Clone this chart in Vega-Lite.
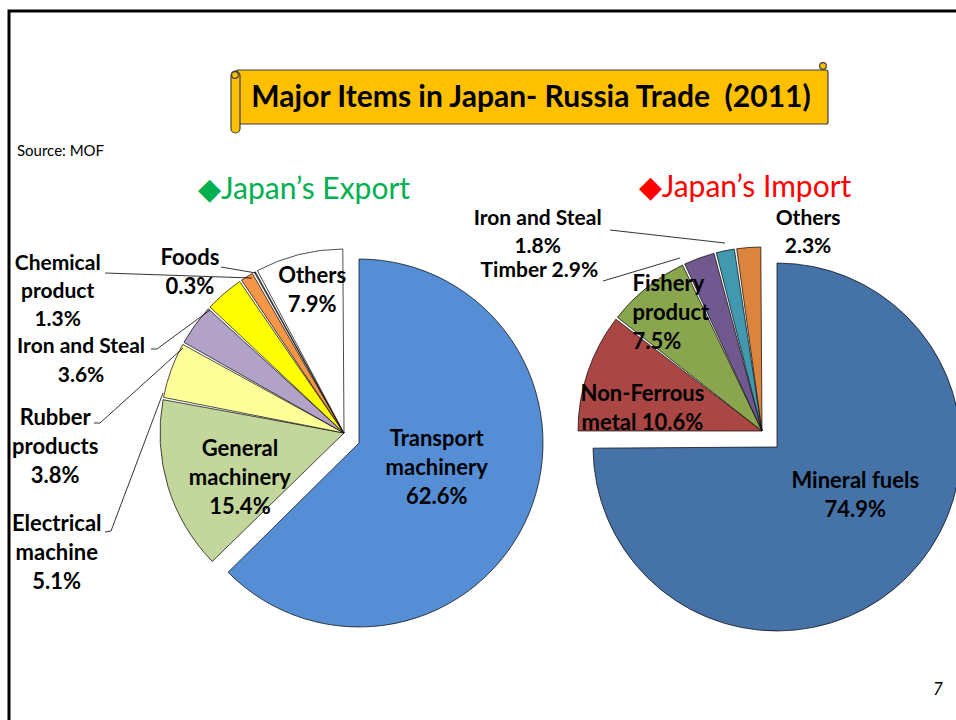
{
  "$schema": "https://vega.github.io/schema/vega-lite/v6.json",
  "width": 947,
  "height": 709,
  "autosize": {"type": "none"},
  "padding": {"left": 9, "top": 11, "right": 0, "bottom": 0},
  "background": "white",
  "config": {
    "view": {"stroke": "black", "strokeWidth": 3, "strokeDash": [947, 1656, 709]},
    "text": {"font": "Lato"}
  },
  "data": {
    "values": [
      {"chart": "Export", "order": 1, "id": "E1", "item": "Transport machinery", "value": 62.6, "label": "Transport\nmachinery\n62.6%"},
      {"chart": "Export", "order": 2, "id": "E2", "item": "General machinery", "value": 15.4, "label": "General\nmachinery\n15.4%"},
      {"chart": "Export", "order": 3, "id": "E3", "item": "Electrical machine", "value": 5.1, "label": "Electrical\nmachine\n5.1%"},
      {"chart": "Export", "order": 4, "id": "E4", "item": "Rubber products", "value": 3.8, "label": "Rubber\nproducts\n3.8%"},
      {"chart": "Export", "order": 5, "id": "E5", "item": "Iron and Steal", "value": 3.6, "label": "Iron and Steal\n3.6%"},
      {"chart": "Export", "order": 6, "id": "E6", "item": "Chemical product", "value": 1.3, "label": "Chemical\nproduct\n1.3%"},
      {"chart": "Export", "order": 7, "id": "E7", "item": "Foods", "value": 0.3, "label": "Foods\n0.3%"},
      {"chart": "Export", "order": 8, "id": "E8", "item": "Others", "value": 7.9, "label": "Others\n7.9%"},
      {"chart": "Import", "order": 1, "id": "I1", "item": "Mineral fuels", "value": 74.9, "label": "Mineral fuels\n74.9%"},
      {"chart": "Import", "order": 2, "id": "I2", "item": "Non-Ferrous metal", "value": 10.6, "label": "Non-Ferrous\nmetal 10.6%"},
      {"chart": "Import", "order": 3, "id": "I3", "item": "Fishery product", "value": 7.5, "label": "Fishery\nproduct\n7.5%"},
      {"chart": "Import", "order": 4, "id": "I4", "item": "Timber", "value": 2.9, "label": "Timber 2.9%"},
      {"chart": "Import", "order": 5, "id": "I5", "item": "Iron and Steal", "value": 1.8, "label": "Iron and Steal\n1.8%"},
      {"chart": "Import", "order": 6, "id": "I6", "item": "Others", "value": 2.3, "label": "Others\n2.3%"}
    ]
  },
  "layer": [
    {
      "transform": [
        {"stack": "value", "groupby": ["chart"], "sort": [{"field": "order", "order": "ascending"}], "as": ["v0", "v1"]},
        {"filter": "datum.order > 1"}
      ],
      "mark": {"type": "arc", "outerRadius": 184, "padAngle": 0.013, "stroke": "black", "strokeWidth": 0.7},
      "encoding": {
        "x": {"field": "chart", "type": "nominal", "scale": {"type": "point", "domain": ["Export", "Import"], "range": [335, 753], "padding": 0}, "axis": null},
        "y": {"field": "chart", "type": "nominal", "scale": {"type": "point", "domain": ["Export", "Import"], "range": [422, 420], "padding": 0}, "axis": null},
        "theta": {"field": "v0", "type": "quantitative", "scale": {"domain": [0, 100], "nice": false}},
        "theta2": {"field": "v1"},
        "color": {"field": "id", "type": "nominal", "legend": null,
          "scale": {"domain": ["E1","E2","E3","E4","E5","E6","E7","E8","I1","I2","I3","I4","I5","I6"],
                    "range": ["#558ED5","#C3D69B","#FFFF99","#B3A2C7","#FFFF00","#F79646","#808080","#FFFFFF","#4572A7","#AA4643","#89A54E","#71588F","#4198AF","#DB843D"]}}
      }
    },
    {
      "transform": [
        {"stack": "value", "groupby": ["chart"], "sort": [{"field": "order", "order": "ascending"}], "as": ["v0", "v1"]},
        {"filter": "datum.chart === 'Export' && datum.order === 1"}
      ],
      "mark": {"type": "arc", "outerRadius": 184, "stroke": "black", "strokeWidth": 0.7, "xOffset": 15, "yOffset": 10},
      "encoding": {
        "x": {"field": "chart", "type": "nominal"},
        "y": {"field": "chart", "type": "nominal"},
        "theta": {"field": "v0", "type": "quantitative"},
        "theta2": {"field": "v1"},
        "color": {"field": "id", "type": "nominal", "legend": null}
      }
    },
    {
      "transform": [
        {"stack": "value", "groupby": ["chart"], "sort": [{"field": "order", "order": "ascending"}], "as": ["v0", "v1"]},
        {"filter": "datum.chart === 'Import' && datum.order === 1"}
      ],
      "mark": {"type": "arc", "outerRadius": 184, "stroke": "black", "strokeWidth": 0.7, "xOffset": 15, "yOffset": 16},
      "encoding": {
        "x": {"field": "chart", "type": "nominal"},
        "y": {"field": "chart", "type": "nominal"},
        "theta": {"field": "v0", "type": "quantitative"},
        "theta2": {"field": "v1"},
        "color": {"field": "id", "type": "nominal", "legend": null}
      }
    },
    {
      "transform": [{"filter": "datum.chart === 'Export'"}],
      "mark": {"type": "text", "font": "Lato", "fontWeight": "bold", "fontSize": 22, "lineBreak": "\n", "lineHeight": 29, "radius": 82, "dx": 2, "dy": -36, "xOffset": 15, "yOffset": 10},
      "encoding": {
        "x": {"field": "chart", "type": "nominal"}, "y": {"field": "chart", "type": "nominal"},
        "theta": {"field": "value", "type": "quantitative", "stack": true},
        "order": {"field": "order", "type": "quantitative"},
        "text": {"condition": {"test": "datum.order === 1", "field": "label"}, "value": ""}
      }
    },
    {
      "transform": [{"filter": "datum.chart === 'Export'"}],
      "mark": {"type": "text", "font": "Lato", "fontWeight": "bold", "fontSize": 22, "lineBreak": "\n", "lineHeight": 29, "radius": 113, "dx": 4, "dy": -17},
      "encoding": {
        "x": {"field": "chart", "type": "nominal"}, "y": {"field": "chart", "type": "nominal"},
        "theta": {"field": "value", "type": "quantitative", "stack": true},
        "order": {"field": "order", "type": "quantitative"},
        "text": {"condition": {"test": "datum.order === 2", "field": "label"}, "value": ""}
      }
    },
    {
      "transform": [{"filter": "datum.chart === 'Export'"}],
      "mark": {"type": "text", "font": "Lato", "fontWeight": "bold", "fontSize": 22, "lineBreak": "\n", "lineHeight": 29, "radius": 311, "dx": 5, "dy": 197},
      "encoding": {
        "x": {"field": "chart", "type": "nominal"}, "y": {"field": "chart", "type": "nominal"},
        "theta": {"field": "value", "type": "quantitative", "stack": true},
        "order": {"field": "order", "type": "quantitative"},
        "text": {"condition": {"test": "datum.order === 3", "field": "label"}, "value": ""}
      }
    },
    {
      "transform": [{"filter": "datum.chart === 'Export'"}],
      "mark": {"type": "text", "font": "Lato", "fontWeight": "bold", "fontSize": 22, "lineBreak": "\n", "lineHeight": 29, "radius": 289, "dx": -55, "dy": 155},
      "encoding": {
        "x": {"field": "chart", "type": "nominal"}, "y": {"field": "chart", "type": "nominal"},
        "theta": {"field": "value", "type": "quantitative", "stack": true},
        "order": {"field": "order", "type": "quantitative"},
        "text": {"condition": {"test": "datum.order === 4", "field": "label"}, "value": ""}
      }
    },
    {
      "transform": [{"filter": "datum.chart === 'Export'"}],
      "mark": {"type": "text", "font": "Lato", "fontWeight": "bold", "fontSize": 21, "lineBreak": "\n", "lineHeight": 29, "radius": 273, "dx": -85, "dy": 121},
      "encoding": {
        "x": {"field": "chart", "type": "nominal"}, "y": {"field": "chart", "type": "nominal"},
        "theta": {"field": "value", "type": "quantitative", "stack": true},
        "order": {"field": "order", "type": "quantitative"},
        "text": {"condition": {"test": "datum.order === 5", "field": "label"}, "value": ""}
      }
    },
    {
      "transform": [{"filter": "datum.chart === 'Export'"}],
      "mark": {"type": "text", "font": "Lato", "fontWeight": "bold", "fontSize": 21, "lineBreak": "\n", "lineHeight": 28, "radius": 317, "dx": -119, "dy": 100},
      "encoding": {
        "x": {"field": "chart", "type": "nominal"}, "y": {"field": "chart", "type": "nominal"},
        "theta": {"field": "value", "type": "quantitative", "stack": true},
        "order": {"field": "order", "type": "quantitative"},
        "text": {"condition": {"test": "datum.order === 6", "field": "label"}, "value": ""}
      }
    },
    {
      "transform": [{"filter": "datum.chart === 'Export'"}],
      "mark": {"type": "text", "font": "Lato", "fontWeight": "bold", "fontSize": 22, "lineBreak": "\n", "lineHeight": 29, "radius": 223, "dx": -46, "dy": 20},
      "encoding": {
        "x": {"field": "chart", "type": "nominal"}, "y": {"field": "chart", "type": "nominal"},
        "theta": {"field": "value", "type": "quantitative", "stack": true},
        "order": {"field": "order", "type": "quantitative"},
        "text": {"condition": {"test": "datum.order === 7", "field": "label"}, "value": ""}
      }
    },
    {
      "transform": [{"filter": "datum.chart === 'Export'"}],
      "mark": {"type": "text", "font": "Lato", "fontWeight": "bold", "fontSize": 22, "lineBreak": "\n", "lineHeight": 29, "radius": 146, "dx": 4, "dy": -15},
      "encoding": {
        "x": {"field": "chart", "type": "nominal"}, "y": {"field": "chart", "type": "nominal"},
        "theta": {"field": "value", "type": "quantitative", "stack": true},
        "order": {"field": "order", "type": "quantitative"},
        "text": {"condition": {"test": "datum.order === 8", "field": "label"}, "value": ""}
      }
    },
    {
      "transform": [{"filter": "datum.chart === 'Import'"}],
      "mark": {"type": "text", "font": "Lato", "fontWeight": "bold", "fontSize": 22, "lineBreak": "\n", "lineHeight": 29, "radius": 92, "dx": 13, "dy": -31, "xOffset": 15, "yOffset": 16},
      "encoding": {
        "x": {"field": "chart", "type": "nominal"}, "y": {"field": "chart", "type": "nominal"},
        "theta": {"field": "value", "type": "quantitative", "stack": true},
        "order": {"field": "order", "type": "quantitative"},
        "text": {"condition": {"test": "datum.order === 1", "field": "label"}, "value": ""}
      }
    },
    {
      "transform": [{"filter": "datum.chart === 'Import'"}],
      "mark": {"type": "text", "font": "Lato", "fontWeight": "bold", "fontSize": 22, "lineBreak": "\n", "lineHeight": 29, "radius": 122, "dx": -4, "dy": 2},
      "encoding": {
        "x": {"field": "chart", "type": "nominal"}, "y": {"field": "chart", "type": "nominal"},
        "theta": {"field": "value", "type": "quantitative", "stack": true},
        "order": {"field": "order", "type": "quantitative"},
        "text": {"condition": {"test": "datum.order === 2", "field": "label"}, "value": ""}
      }
    },
    {
      "transform": [{"filter": "datum.chart === 'Import'"}],
      "mark": {"type": "text", "font": "Lato", "fontWeight": "bold", "fontSize": 22, "lineBreak": "\n", "lineHeight": 29, "radius": 175, "dx": -20, "dy": -10, "align": "left"},
      "encoding": {
        "x": {"field": "chart", "type": "nominal"}, "y": {"field": "chart", "type": "nominal"},
        "theta": {"field": "value", "type": "quantitative", "stack": true},
        "order": {"field": "order", "type": "quantitative"},
        "text": {"condition": {"test": "datum.order === 3", "field": "label"}, "value": ""}
      }
    },
    {
      "transform": [{"filter": "datum.chart === 'Import'"}],
      "mark": {"type": "text", "font": "Lato", "fontWeight": "bold", "fontSize": 21, "lineBreak": "\n", "lineHeight": 29, "radius": 274, "dx": -129, "dy": 98},
      "encoding": {
        "x": {"field": "chart", "type": "nominal"}, "y": {"field": "chart", "type": "nominal"},
        "theta": {"field": "value", "type": "quantitative", "stack": true},
        "order": {"field": "order", "type": "quantitative"},
        "text": {"condition": {"test": "datum.order === 4", "field": "label"}, "value": ""}
      }
    },
    {
      "transform": [{"filter": "datum.chart === 'Import'"}],
      "mark": {"type": "text", "font": "Lato", "fontWeight": "bold", "fontSize": 21, "lineBreak": "\n", "lineHeight": 28, "radius": 297, "dx": -165, "dy": 79},
      "encoding": {
        "x": {"field": "chart", "type": "nominal"}, "y": {"field": "chart", "type": "nominal"},
        "theta": {"field": "value", "type": "quantitative", "stack": true},
        "order": {"field": "order", "type": "quantitative"},
        "text": {"condition": {"test": "datum.order === 5", "field": "label"}, "value": ""}
      }
    },
    {
      "transform": [{"filter": "datum.chart === 'Import'"}],
      "mark": {"type": "text", "font": "Lato", "fontWeight": "bold", "fontSize": 21, "lineBreak": "\n", "lineHeight": 28, "radius": 207, "dx": 61, "dy": -6},
      "encoding": {
        "x": {"field": "chart", "type": "nominal"}, "y": {"field": "chart", "type": "nominal"},
        "theta": {"field": "value", "type": "quantitative", "stack": true},
        "order": {"field": "order", "type": "quantitative"},
        "text": {"condition": {"test": "datum.order === 6", "field": "label"}, "value": ""}
      }
    },
    {
      "data": {"values": [{"leader": "Foods"}]},
      "mark": {"type": "rule", "stroke": "black", "strokeWidth": 0.8},
      "encoding": {"x": {"value": 212}, "y": {"value": 256}, "x2": {"value": 247}, "y2": {"value": 262}}
    },
    {
      "data": {"values": [{"leader": "Chemical product"}]},
      "mark": {"type": "rule", "stroke": "black", "strokeWidth": 0.8},
      "encoding": {"x": {"value": 96}, "y": {"value": 262}, "x2": {"value": 243}, "y2": {"value": 267}}
    },
    {
      "data": {"values": [{"leader": "Iron and Steal (export) tick"}]},
      "mark": {"type": "rule", "stroke": "black", "strokeWidth": 0.8},
      "encoding": {"x": {"value": 142}, "y": {"value": 338}, "x2": {"value": 148}, "y2": {"value": 338}}
    },
    {
      "data": {"values": [{"leader": "Iron and Steal (export)"}]},
      "mark": {"type": "rule", "stroke": "black", "strokeWidth": 0.8},
      "encoding": {"x": {"value": 148}, "y": {"value": 338}, "x2": {"value": 201}, "y2": {"value": 299}}
    },
    {
      "data": {"values": [{"leader": "Rubber products tick"}]},
      "mark": {"type": "rule", "stroke": "black", "strokeWidth": 0.8},
      "encoding": {"x": {"value": 85}, "y": {"value": 412}, "x2": {"value": 91}, "y2": {"value": 412}}
    },
    {
      "data": {"values": [{"leader": "Rubber products"}]},
      "mark": {"type": "rule", "stroke": "black", "strokeWidth": 0.8},
      "encoding": {"x": {"value": 91}, "y": {"value": 412}, "x2": {"value": 174}, "y2": {"value": 337}}
    },
    {
      "data": {"values": [{"leader": "Electrical machine tick"}]},
      "mark": {"type": "rule", "stroke": "black", "strokeWidth": 0.8},
      "encoding": {"x": {"value": 96}, "y": {"value": 521}, "x2": {"value": 102}, "y2": {"value": 520}}
    },
    {
      "data": {"values": [{"leader": "Electrical machine"}]},
      "mark": {"type": "rule", "stroke": "black", "strokeWidth": 0.8},
      "encoding": {"x": {"value": 102}, "y": {"value": 520}, "x2": {"value": 154}, "y2": {"value": 382}}
    },
    {
      "data": {"values": [{"leader": "Iron and Steal (import)"}]},
      "mark": {"type": "rule", "stroke": "black", "strokeWidth": 0.8},
      "encoding": {"x": {"value": 601}, "y": {"value": 219}, "x2": {"value": 716}, "y2": {"value": 232}}
    },
    {
      "data": {"values": [{"leader": "Timber"}]},
      "mark": {"type": "rule", "stroke": "black", "strokeWidth": 0.8},
      "encoding": {"x": {"value": 594}, "y": {"value": 270}, "x2": {"value": 671}, "y2": {"value": 247}}
    },
    {
      "data": {"values": [{"note": "banner"}]},
      "mark": {"type": "rect", "fill": "#FFC000", "stroke": "#3f3f3f", "strokeWidth": 1.2, "cornerRadius": 2},
      "encoding": {"x": {"value": 227}, "x2": {"value": 819}, "y": {"value": 59}, "y2": {"value": 113}}
    },
    {
      "data": {"values": [{"note": "roll"}]},
      "mark": {"type": "rect", "fill": "#FFC000", "stroke": "#3f3f3f", "strokeWidth": 1.2, "cornerRadius": 4.5},
      "encoding": {"x": {"value": 222}, "x2": {"value": 231}, "y": {"value": 60}, "y2": {"value": 122}}
    },
    {
      "data": {"values": [{"note": "curl"}]},
      "mark": {"type": "circle", "size": 45, "fill": "#FFC000", "stroke": "#3f3f3f", "strokeWidth": 1.2, "opacity": 1},
      "encoding": {"x": {"value": 226}, "y": {"value": 64}}
    },
    {
      "data": {"values": [{"note": "curl"}]},
      "mark": {"type": "circle", "size": 45, "fill": "#FFC000", "stroke": "#3f3f3f", "strokeWidth": 1.2, "opacity": 1},
      "encoding": {"x": {"value": 814}, "y": {"value": 55}}
    },
    {
      "data": {"values": [{"t": "Major Items in Japan- Russia Trade \u00a0(2011)"}]},
      "mark": {"type": "text", "font": "Lato", "fontWeight": "bold", "fontSize": 30, "align": "center", "baseline": "middle", "color": "black"},
      "encoding": {"x": {"value": 522}, "y": {"value": 87}, "text": {"field": "t"}}
    },
    {
      "data": {"values": [{"t": "Source: MOF"}]},
      "mark": {"type": "text", "font": "Lato", "fontSize": 15, "align": "left", "baseline": "middle", "color": "black"},
      "encoding": {"x": {"value": 8}, "y": {"value": 140}, "text": {"field": "t"}}
    },
    {
      "data": {"values": [{"t": "◆Japan’s Export"}]},
      "mark": {"type": "text", "font": "Lato", "fontSize": 30, "align": "center", "baseline": "middle", "color": "#00B050"},
      "encoding": {"x": {"value": 295}, "y": {"value": 179}, "text": {"field": "t"}}
    },
    {
      "data": {"values": [{"t": "◆Japan’s Import"}]},
      "mark": {"type": "text", "font": "Lato", "fontSize": 30, "align": "center", "baseline": "middle", "color": "#FF0000"},
      "encoding": {"x": {"value": 736}, "y": {"value": 177}, "text": {"field": "t"}}
    },
    {
      "data": {"values": [{"t": "7"}]},
      "mark": {"type": "text", "font": "Lato", "fontSize": 17, "fontStyle": "italic", "align": "center", "baseline": "middle", "color": "black"},
      "encoding": {"x": {"value": 929}, "y": {"value": 679}, "text": {"field": "t"}}
    }
  ]
}
